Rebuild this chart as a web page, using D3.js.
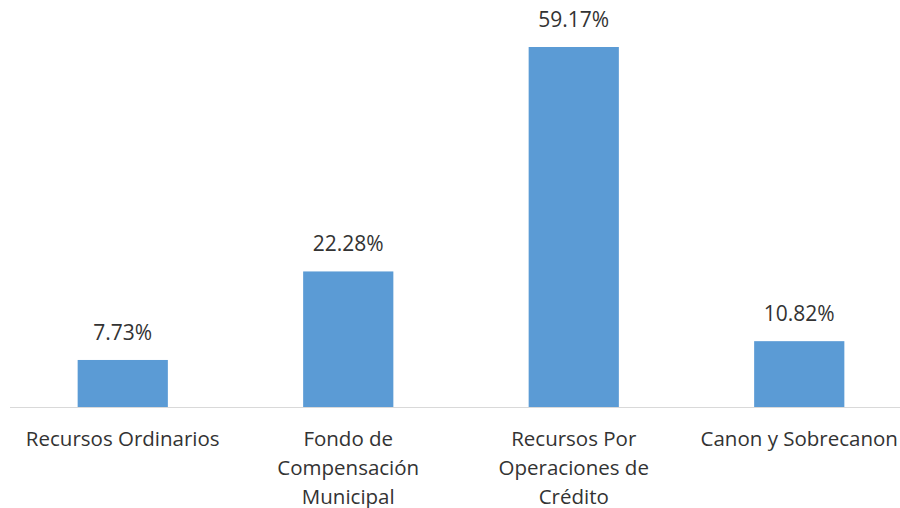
<!DOCTYPE html>
<html>
<head>
<meta charset="utf-8">
<script src="https://cdn.jsdelivr.net/npm/d3@7"></script>
<style>
  body { margin: 0; background: #fff; }
  text { font-family: 'Open Sans', sans-serif; fill: #333; }
</style>
</head>
<body>
<div id="chart"></div>
<script>
// data
var categories = ['Recursos Ordinarios', 'Fondo de\nCompensación\nMunicipal', 'Recursos Por\nOperaciones de\nCrédito', 'Canon y Sobrecanon']
var values = [7.73, 22.28, 59.17, 10.82]

var width = 900
var height = 508
var baseline = 407

var svg = d3.select('#chart')
  .append('svg')
  .attr('width', width)
  .attr('height', height)

var x = d3.scaleBand()
  .domain(categories)
  .range([10, 912])
  .paddingInner(0.6)
  .paddingOuter(0.3)

var y = d3.scaleLinear()
  .domain([0, 59.17])
  .range([baseline, 47])

var data = categories.map((c, i) => ({ cat: c, val: values[i] }))

svg.append('g')
  .selectAll('rect')
  .data(data)
  .enter()
  .append('rect')
  .attr('x', d => x(d.cat))
  .attr('y', d => y(d.val))
  .attr('width', x.bandwidth())
  .attr('height', d => baseline - y(d.val))
  .attr('fill', '#5b9bd5')

// axis line
svg.append('line')
  .attr('x1', 10)
  .attr('x2', 900)
  .attr('y1', baseline + 0.5)
  .attr('y2', baseline + 0.5)
  .attr('stroke', '#d9d9d9')
  .attr('stroke-width', 1)

// value labels
svg.append('g')
  .selectAll('text')
  .data(data)
  .enter()
  .append('text')
  .attr('x', d => x(d.cat) + x.bandwidth() / 2)
  .attr('y', d => y(d.val) - 20)
  .attr('text-anchor', 'middle')
  .attr('font-size', 21)
  .text(d => d.val.toFixed(2) + '%')

// category labels, wrapped on \n
var labels = svg.append('g')
  .selectAll('text')
  .data(data)
  .enter()
  .append('text')
  .attr('x', d => x(d.cat) + x.bandwidth() / 2)
  .attr('y', baseline + 39)
  .attr('text-anchor', 'middle')
  .attr('font-size', 20.5)

labels.each(function (d) {
  var el = d3.select(this)
  d.cat.split('\n').forEach((line, i) => {
    el.append('tspan')
      .attr('x', x(d.cat) + x.bandwidth() / 2)
      .attr('dy', i === 0 ? 0 : 29)
      .text(line)
  })
})
</script>
</body>
</html>
